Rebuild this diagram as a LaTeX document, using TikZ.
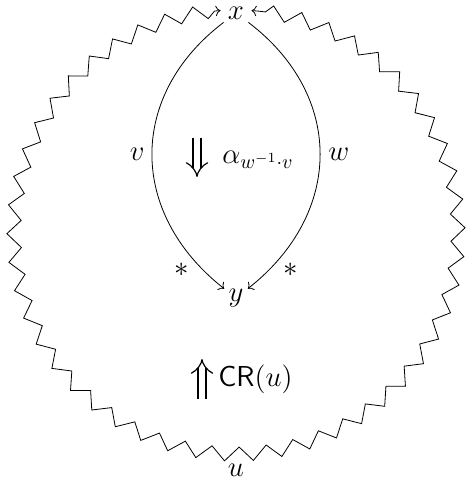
\documentclass[tikz,border=0pt]{standalone}
\usetikzlibrary{decorations.pathmorphing, arrows.meta}
\begin{document}
\begin{tikzpicture}[x=0.5pt,y=0.5pt,
  lbl/.style={font=\fontsize{14.4}{17}\selectfont, inner sep=2pt},
  cmarrow/.style={-{Computer Modern Rightarrow}},
  zz/.style={decorate, decoration={zigzag, segment length=14pt, amplitude=3.5pt, pre length=3pt, post length=3pt}, {Computer Modern Rightarrow}-{Computer Modern Rightarrow}},
  twocell/.style={double, double distance=3.4pt, -{Implies[scale=2.6]}, line width=0.6pt}]
\useasboundingbox (0,0) rectangle (467,485);
\coordinate (C) at (236,253);
\node[lbl] (X) at (236,472) {$x$};
\node[lbl] (Y) at (236,187) {$y$};
\node[lbl] (U) at (236,15) {$u$};
\draw[zz] ([shift={(94:222)}]C) arc[start angle=94, end angle=446, radius=222];
\draw[cmarrow] (X) .. controls (128,390) and (128,272) .. (Y)
  node[pos=0.5, left=1.5pt, lbl]{$v$} node[pos=0.92, left=5pt, lbl]{$*$};
\draw[cmarrow] (X) .. controls (344,390) and (344,272) .. (Y)
  node[pos=0.5, right=2pt, lbl]{$w$} node[pos=0.92, right=5pt, lbl]{$*$};
\coordinate (a1) at (197,347);
\coordinate (a2) at (197,308);
\draw[twocell] (a1) -- (a2);
\node[lbl, anchor=west] (al) at (218,325) {$\alpha_{w^{-1}\cdot v}$};
\coordinate (b1) at (202,86);
\coordinate (b2) at (202,126);
\draw[twocell] (b1) -- (b2);
\node[lbl, anchor=west] (cr) at (214,106) {$\mathsf{CR}(u)$};
\end{tikzpicture}
\end{document}
